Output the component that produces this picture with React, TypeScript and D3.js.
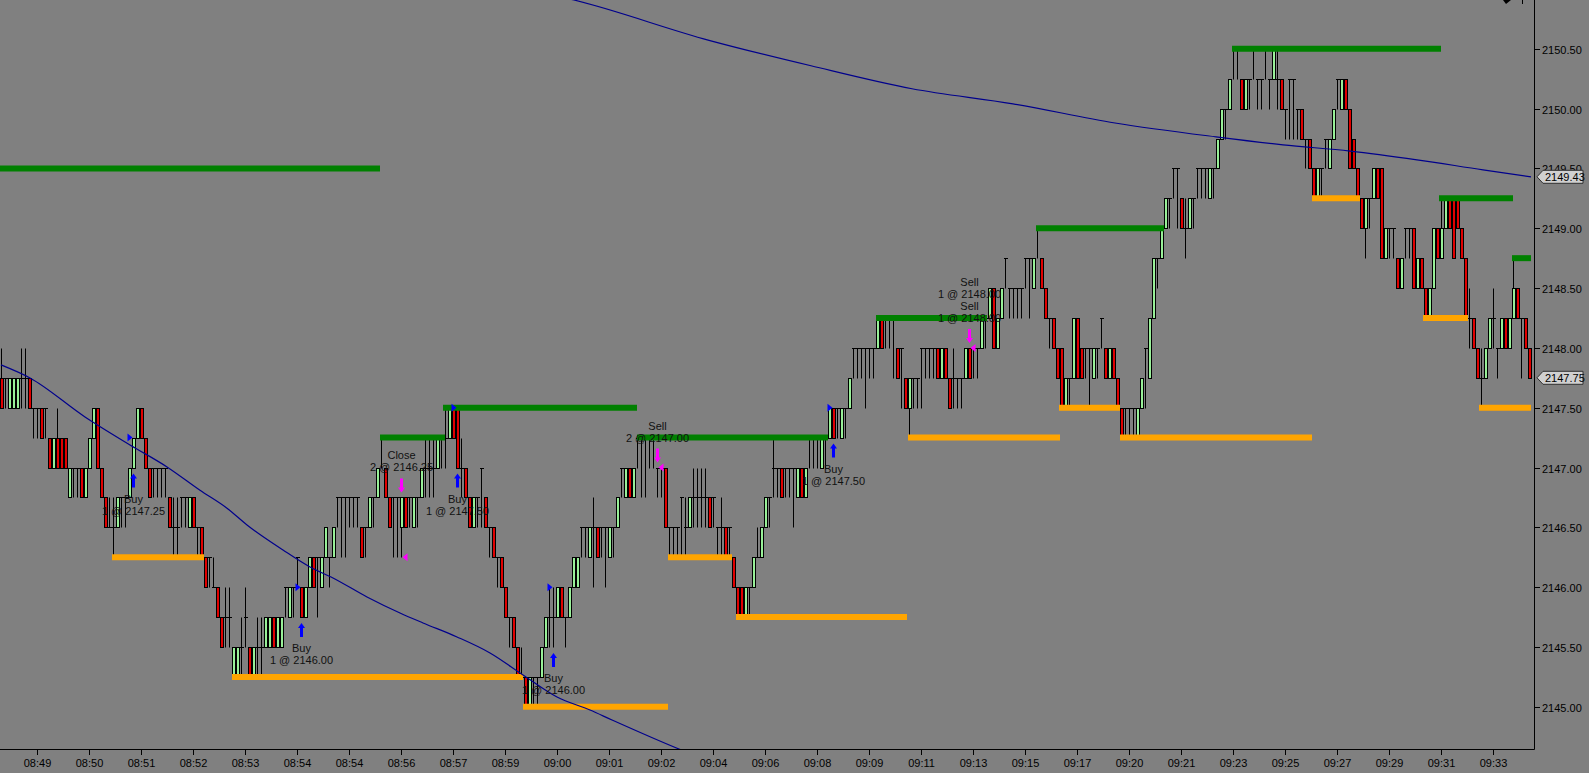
import React from 'react';
import * as d3 from 'd3';

// ---------- data ----------
const BASE_PRICE = 2145.0;
const TICK_SIZE = 0.25;

// bars in ticks above BASE_PRICE: [open, high, low, close]
const bars: [number, number, number, number][] = [
  [11,12,10,10],[11,11,10,11],[10,11,10,11],[10,11,10,11],[10,11,10,11],[11,12,10,11],[11,12,10,11],[11,11,10,10],[10,10,9,10],[10,10,9,10],
  [10,10,9,9],[10,10,9,10],[9,9,8,8],[8,9,8,9],[9,10,8,8],[9,9,8,8],[9,9,8,8],[7,8,7,8],[8,8,7,8],[8,8,7,8],
  [8,8,7,7],[7,8,7,8],[8,9,8,9],[9,10,9,10],[10,10,8,8],[8,8,7,7],[7,7,6,6],[6,7,6,6],[6,7,5,6],[6,7,6,7],
  [7,7,6,7],[7,7,6,7],[7,8,7,8],[8,9,8,9],[9,10,9,10],[10,10,9,9],[9,9,8,8],[8,8,7,7],[8,8,7,8],[8,8,7,8],
  [8,8,7,8],[8,8,7,8],[7,7,6,6],[6,7,5,6],[6,7,5,6],[7,7,6,7],[7,7,6,7],[6,7,6,7],[7,7,6,6],[6,6,5,6],
  [6,6,5,5],[5,5,4,4],[5,5,4,5],[4,5,4,4],[4,4,3,3],[3,3,2,2],[3,4,2,3],[3,4,2,3],[1,2,1,2],[1,2,1,2],
  [2,3,1,2],[3,4,2,3],[2,2,1,1],[1,2,1,2],[2,3,1,2],[2,3,1,2],[2,3,2,3],[2,3,2,3],[3,3,2,2],[2,3,2,3],
  [2,3,2,3],[4,4,3,4],[3,4,3,4],[4,4,3,4],[5,5,4,5],[4,4,3,3],[3,4,3,4],[4,5,4,5],[5,5,4,4],[5,5,3,5],
  [4,5,4,5],[5,6,5,6],[5,5,4,5],[5,6,5,6],[7,7,6,7],[7,7,5,7],[7,7,5,7],[7,7,6,7],[7,7,6,7],[7,7,6,7],
  [6,6,5,5],[6,6,5,6],[6,7,6,7],[7,7,6,7],[7,8,7,8],[9,9,8,9],[8,8,7,7],[7,7,6,6],[7,7,5,7],[7,7,5,7],
  [6,7,5,7],[7,7,6,6],[7,7,6,7],[6,7,6,7],[7,7,6,7],[7,8,7,8],[8,9,7,8],[8,9,7,8],[8,9,7,8],[8,9,8,9],
  [9,9,8,9],[9,10,8,9],[9,10,9,10],[10,10,9,9],[10,10,8,8],[8,9,7,8],[8,8,7,7],[7,7,6,6],[6,7,6,7],[7,7,6,7],
  [8,8,6,8],[7,7,6,6],[6,6,5,6],[6,6,5,5],[5,5,4,5],[5,5,4,4],[4,4,3,3],[3,3,2,3],[3,3,2,2],[2,2,1,1],
  [1,2,1,1],[1,1,0,0],[0,1,0,1],[1,1,0,1],[1,1,0,1],[1,2,1,2],[2,3,2,3],[3,4,2,3],[3,4,2,3],[3,4,3,4],
  [4,4,3,3],[3,3,2,3],[3,4,3,4],[4,5,4,5],[4,5,4,5],[6,6,5,6],[6,6,5,6],[5,6,5,6],[6,7,4,6],[6,6,5,5],
  [6,6,5,6],[6,6,4,6],[5,6,5,6],[6,6,5,6],[6,7,6,7],[8,8,7,8],[7,8,7,8],[8,8,7,7],[7,8,7,8],[9,9,8,9],
  [9,9,7,9],[9,9,7,9],[9,9,8,9],[9,9,8,9],[8,8,7,8],[8,8,7,8],[8,8,6,6],[6,6,5,6],[6,6,5,6],[6,6,5,6],
  [7,7,5,7],[6,7,5,6],[6,7,6,7],[7,8,6,7],[7,8,6,7],[7,8,6,7],[7,8,6,7],[7,7,6,6],[7,7,6,7],[6,6,5,6],
  [6,7,5,6],[6,6,5,5],[6,6,5,6],[5,5,4,4],[4,4,3,3],[4,4,3,3],[3,4,3,4],[4,4,3,4],[4,5,4,5],[5,6,5,5],
  [5,6,5,6],[6,7,6,7],[7,7,6,7],[8,9,7,8],[8,8,7,8],[8,8,7,7],[8,8,7,8],[8,8,7,8],[8,8,6,8],[7,8,7,8],
  [8,8,7,7],[7,8,7,8],[9,9,8,9],[9,9,8,9],[9,9,8,9],[8,9,8,9],[9,9,8,9],[9,10,9,10],[10,10,9,9],[10,10,9,10],
  [9,10,9,10],[10,10,9,10],[10,11,10,11],[12,12,11,12],[12,12,11,12],[12,12,11,12],[12,12,10,12],[12,12,11,12],[12,12,11,12],[12,13,12,13],
  [13,13,12,12],[13,13,12,13],[13,13,12,13],[13,13,11,13],[12,12,11,11],[12,12,10,12],[11,11,10,10],[10,11,9,11],[11,11,10,11],[11,11,10,11],
  [12,12,10,12],[12,12,11,12],[12,12,11,12],[12,12,11,12],[12,12,11,11],[11,12,11,12],[12,12,11,11],[11,11,10,10],[11,12,10,11],[11,11,10,11],
  [11,11,10,11],[11,12,11,12],[12,12,11,11],[12,12,11,12],[12,12,11,12],[12,13,12,13],[13,13,12,13],[13,14,13,14],[14,14,12,12],[12,13,12,13],
  [13,14,13,14],[15,15,14,15],[14,14,13,14],[14,14,13,14],[14,14,13,14],[14,14,13,14],[15,15,14,15],[15,15,13,15],[14,15,14,15],[16,16,15,16],
  [15,15,14,14],[14,14,13,13],[13,13,12,13],[13,13,12,12],[12,12,11,11],[12,12,10,10],[10,11,10,11],[11,11,10,11],[11,13,11,13],[13,13,11,11],
  [12,12,11,11],[12,12,11,12],[12,12,10,12],[11,12,11,12],[12,12,11,12],[13,13,12,13],[12,12,11,11],[11,12,11,12],[12,12,11,11],[11,11,10,10],
  [10,10,9,9],[10,10,9,10],[10,10,9,10],[10,10,9,10],[9,10,9,10],[10,11,10,11],[12,12,10,12],[11,13,11,13],[13,15,13,15],[15,15,14,15],
  [15,16,15,16],[16,17,16,17],[17,17,16,17],[18,18,17,18],[18,18,16,18],[17,17,16,16],[16,17,15,16],[16,17,16,17],[17,17,16,17],[18,18,17,18],
  [18,18,17,18],[18,18,17,18],[17,18,17,18],[18,18,17,18],[18,19,18,19],[19,20,19,20],[20,20,19,20],[20,21,20,21],[22,22,21,22],[22,22,21,22],
  [21,21,20,20],[20,21,20,21],[21,21,20,21],[22,22,21,22],[21,21,20,21],[21,21,20,21],[22,22,21,22],[21,21,20,21],[21,22,21,22],[21,22,20,21],
  [21,21,20,20],[20,20,19,20],[21,21,19,21],[21,21,19,21],[20,20,19,20],[20,20,19,19],[19,19,18,19],[19,19,18,18],[18,18,17,17],[17,18,17,18],
  [18,18,17,18],[19,19,18,19],[18,19,18,19],[19,20,19,20],[21,21,20,21],[20,21,20,21],[21,21,20,20],[20,20,18,18],[19,19,18,18],[18,18,17,17],
  [17,17,16,16],[16,17,15,17],[17,17,16,17],[17,18,17,18],[18,18,17,17],[18,18,15,15],[15,16,15,16],[16,16,15,16],[16,16,15,16],[15,15,14,14],
  [14,15,14,15],[16,16,15,16],[16,16,15,16],[16,16,14,14],[14,15,14,15],[15,15,14,14],[14,14,13,13],[13,14,13,14],[14,16,14,16],[16,16,15,15],
  [15,17,15,16],[16,17,16,17],[17,17,16,16],[17,17,15,15],[17,17,16,16],[16,16,15,15],[15,15,13,13],[13,14,12,13],[13,13,12,12],[12,12,11,11],
  [11,12,10,11],[11,12,11,12],[12,13,12,13],[13,14,12,13],[12,12,11,12],[12,13,12,13],[13,13,12,12],[12,13,12,13],[13,15,13,14],[14,14,13,13],
  [13,13,11,13],[13,13,12,12],[12,12,11,11],
];

const timeLabels = ['08:49','08:50','08:51','08:52','08:53','08:54','08:54','08:56','08:57','08:59','09:00','09:01','09:02','09:04','09:06',
  '09:08','09:09','09:11','09:13','09:15','09:17','09:20','09:21','09:23','09:25','09:27','09:29','09:31','09:33'];
const timeLabelBars = [9,22,35,48,61,74,87,100,113,126,139,152,165,178,191,204,217,230,243,256,269,282,295,308,321,334,347,360,373];

const priceTicks = [2145.0, 2145.5, 2146.0, 2146.5, 2147.0, 2147.5, 2148.0, 2148.5, 2149.0, 2149.5, 2150.0, 2150.5];

// swing high lines (green): start bar, end bar, price
const highLineStart = [-0.25, 94.75, 110.5, 159, 218.75, 258.75, 307.75, 359.5, 377.75];
const highLineEnd = [94.75, 111, 159, 206.75, 246.5, 290.75, 360, 378, 382.5];
const highLinePrice = [2149.5, 2147.25, 2147.5, 2147.25, 2148.25, 2149.0, 2150.5, 2149.25, 2148.75];

// swing low lines (orange)
const lowLineStart = [27.75, 57.75, 130.5, 166.75, 183.75, 226.75, 264.5, 279.75, 327.75, 355.5, 369.5];
const lowLineEnd = [50.75, 130.5, 166.75, 182.75, 226.5, 264.75, 279.75, 327.75, 339.75, 366.75, 382.5];
const lowLinePrice = [2146.25, 2145.25, 2145.0, 2146.25, 2145.75, 2147.25, 2147.5, 2147.25, 2149.25, 2148.25, 2147.5];

// moving averages
const maFastBars = [0, 7.25, 21, 32.25, 41.5, 49.75, 56.5, 61.5, 70.5, 77.25, 83, 91.5, 99.75, 105.5, 114, 122.25, 130.5, 139, 147.25, 152.75, 169.5, 173];
const maFastValues = [2147.858, 2147.749, 2147.423, 2147.189, 2147.005, 2146.81, 2146.66, 2146.52, 2146.311, 2146.169, 2146.077, 2145.918,
  2145.784, 2145.701, 2145.584, 2145.450, 2145.266, 2145.082, 2144.973, 2144.890, 2144.647, 2144.60];
const maSlowBars = [128, 143, 177, 202.5, 227.75, 253, 278.5, 303.75, 320.5, 337.25, 354, 370.5, 382.5];
const maSlowValues = [2151.02, 2150.91, 2150.571, 2150.358, 2150.166, 2150.04, 2149.88, 2149.764, 2149.697, 2149.645, 2149.572, 2149.488, 2149.43];

// executions
const tradeBars = [33, 75, 100, 114, 138, 164, 208, 242, 242];
const tradeActions = ['Buy', 'Buy', 'Close', 'Buy', 'Buy', 'Sell', 'Buy', 'Sell', 'Sell'];
const tradeQty = [1, 1, 2, 1, 1, 2, 1, 1, 1];
const tradePrices = [2147.25, 2146.0, 2146.25, 2147.5, 2146.0, 2147.0, 2147.5, 2148.0, 2148.0];

const lastMaValue = 2149.43;
const lastClose = 2147.75;

// ---------- layout ----------
const W = 1589;
const H = 773;
const PLOT_R = 1534;
const PLOT_B = 749;
const FONT = '"Liberation Sans", Arial, sans-serif';
const BG = '#808080';
const UP_FILL = '#98f098';
const DOWN_FILL = '#e00000';

export default function App() {
  const x = d3.scaleLinear().domain([0, 383.25]).range([1, PLOT_R]);
  const y = d3.scaleLinear().domain([2145, 2150.5]).range([706.8, 48.8]);
  const tp = (t: number) => BASE_PRICE + t * TICK_SIZE;
  const py = (p: number) => Math.round(y(p)) + 0.5;
  const fmt = d3.format('.2f');

  const maLine = d3.line<[number, number]>().x(d => x(d[0])).y(d => y(d[1])).curve(d3.curveMonotoneX);
  const fastPts: [number, number][] = maFastBars.map((b, i) => [b, maFastValues[i]]);
  const slowPts: [number, number][] = maSlowBars.map((b, i) => [b, maSlowValues[i]]);

  // group trades by bar
  const groups: { bar: number; idx: number[] }[] = [];
  tradeBars.forEach((b, i) => {
    const g = groups.find(gg => gg.bar === b);
    if (g) g.idx.push(i); else groups.push({ bar: b, idx: [i] });
  });

  const markerBox = (val: number, key: string) => {
    const yy = y(val);
    const pts = [[1537, yy], [1543, yy - 6.5], [1583, yy - 6.5], [1583, yy + 6.5], [1543, yy + 6.5]];
    return (
      <g key={key}>
        <polygon points={pts.map(p => p.join(',')).join(' ')} fill="#d0d0d0" stroke="#303030" strokeWidth={1} />
        <text x={1545} y={yy + 4} fontSize={11} fontFamily={FONT} fill="#000">{fmt(val)}</text>
      </g>
    );
  };

  return (
    <svg width={W} height={H} style={{ position: 'absolute', left: 0, top: 0, display: 'block' }}>
      <defs>
        <clipPath id="plotClip">
          <rect x={0} y={0} width={PLOT_R} height={PLOT_B} />
        </clipPath>
      </defs>
      <rect x={0} y={0} width={W} height={H} fill={BG} />

      <g clipPath="url(#plotClip)">
        {/* bars */}
        {bars.map(([o, h, l, c], i) => {
          const xc = Math.round(x(i));
          const yH = py(tp(h));
          const yL = py(tp(l));
          const els: React.ReactNode[] = [
            <line key="w" x1={xc + 0.5} x2={xc + 0.5} y1={yH} y2={yL} stroke="#000" strokeWidth={1} />,
          ];
          if (o === c) {
            const yo = py(tp(o));
            els.push(<line key="d" x1={xc - 1} x2={xc + 3} y1={yo} y2={yo} stroke="#000" strokeWidth={1} />);
          } else {
            const yTop = py(tp(Math.max(o, c)));
            const yBot = py(tp(Math.min(o, c)));
            els.push(
              <rect key="b" x={xc - 0.5} y={yTop} width={3} height={yBot - yTop}
                fill={c > o ? UP_FILL : DOWN_FILL} stroke="#000" strokeWidth={1} />
            );
          }
          return <g key={i}>{els}</g>;
        })}

        {/* swing lines */}
        {highLinePrice.map((p, i) => (
          <line key={'h' + i} x1={x(highLineStart[i])} x2={x(highLineEnd[i])} y1={y(p)} y2={y(p)}
            stroke="#008000" strokeWidth={6} strokeLinecap="butt" />
        ))}
        {lowLinePrice.map((p, i) => (
          <line key={'l' + i} x1={x(lowLineStart[i])} x2={x(lowLineEnd[i])} y1={y(p)} y2={y(p)}
            stroke="#ffa500" strokeWidth={6} strokeLinecap="butt" />
        ))}

        {/* moving averages */}
        <path d={maLine(fastPts) || ''} fill="none" stroke="#00008c" strokeWidth={1.2} />
        <path d={maLine(slowPts) || ''} fill="none" stroke="#00008c" strokeWidth={1.2} />

        {/* executions */}
        {groups.map(g => {
          const [o, h, l, c] = bars[g.bar];
          const xc = Math.round(x(g.bar));
          const xa = xc + 0.5;
          const first = g.idx[0];
          const isBuy = tradeActions[first] === 'Buy';
          const els: React.ReactNode[] = [];
          if (isBuy) {
            const yLow = y(tp(l));
            const top = yLow + 6;
            els.push(
              <path key="a" d={`M${xa},${top} L${xa + 3.5},${top + 5} L${xa + 1.5},${top + 5} L${xa + 1.5},${top + 14} L${xa - 1.5},${top + 14} L${xa - 1.5},${top + 5} L${xa - 3.5},${top + 5} Z`} fill="#0000ff" />
            );
            const fp = y(tradePrices[first]);
            els.push(<path key="t" d={`M${xc - 0.5},${fp} L${xc - 5.5},${fp - 4} L${xc - 5.5},${fp + 4} Z`} fill="#0000ff" />);
            els.push(
              <text key="l1" x={xa} y={yLow + 35} textAnchor="middle" fontSize={11} fontFamily={FONT} fill="#111">{tradeActions[first]}</text>,
              <text key="l2" x={xa} y={yLow + 47} textAnchor="middle" fontSize={11} fontFamily={FONT} fill="#111">{`${tradeQty[first]} @ ${fmt(tradePrices[first])}`}</text>
            );
          } else {
            const yHigh = y(tp(h));
            const bot = yHigh - 5;
            els.push(
              <path key="a" d={`M${xa},${bot} L${xa + 3.5},${bot - 5} L${xa + 1.5},${bot - 5} L${xa + 1.5},${bot - 14} L${xa - 1.5},${bot - 14} L${xa - 1.5},${bot - 5} L${xa - 3.5},${bot - 5} Z`} fill="#ff00ff" />
            );
            const fp = y(tradePrices[first]);
            els.push(<path key="t" d={`M${xc + 1.5},${fp} L${xc + 6.5},${fp - 4} L${xc + 6.5},${fp + 4} Z`} fill="#ff00ff" />);
            const n = g.idx.length;
            g.idx.forEach((ti, k) => {
              const fromBottom = n - 1 - k;
              const base2 = yHigh - 26 - fromBottom * 24;
              els.push(
                <text key={'s1' + k} x={xa} y={base2 - 12} textAnchor="middle" fontSize={11} fontFamily={FONT} fill="#111">{tradeActions[ti]}</text>,
                <text key={'s2' + k} x={xa} y={base2} textAnchor="middle" fontSize={11} fontFamily={FONT} fill="#111">{`${tradeQty[ti]} @ ${fmt(tradePrices[ti])}`}</text>
              );
            });
          }
          return <g key={'g' + g.bar}>{els}</g>;
        })}
      </g>

      {/* axes */}
      <line x1={0} x2={PLOT_R + 0.5} y1={PLOT_B + 0.5} y2={PLOT_B + 0.5} stroke="#000" strokeWidth={1} />
      <line x1={PLOT_R + 0.5} x2={PLOT_R + 0.5} y1={0} y2={PLOT_B + 0.5} stroke="#000" strokeWidth={1} />
      {timeLabels.map((t, i) => {
        const xt = Math.round(x(timeLabelBars[i])) + 0.5;
        return (
          <g key={'xt' + i}>
            <line x1={xt} x2={xt} y1={PLOT_B} y2={PLOT_B + 6} stroke="#000" strokeWidth={1} />
            <text x={xt} y={767} textAnchor="middle" fontSize={11} fontFamily={FONT} fill="#000">{t}</text>
          </g>
        );
      })}
      {priceTicks.map((p, i) => {
        const yt = py(p);
        return (
          <g key={'yt' + i}>
            <line x1={PLOT_R} x2={PLOT_R + 6} y1={yt} y2={yt} stroke="#000" strokeWidth={1} />
            <text x={1542} y={yt + 4} fontSize={11} fontFamily={FONT} fill="#000">{fmt(p)}</text>
          </g>
        );
      })}
      {markerBox(lastMaValue, 'mk1')}
      {markerBox(lastClose, 'mk2')}

      {/* top-right glyph */}
      <polygon points="1503,0 1511,0 1506,4" fill="#000" />
      <line x1={1522.5} x2={1522.5} y1={0} y2={4} stroke="#000" />
    </svg>
  );
}
